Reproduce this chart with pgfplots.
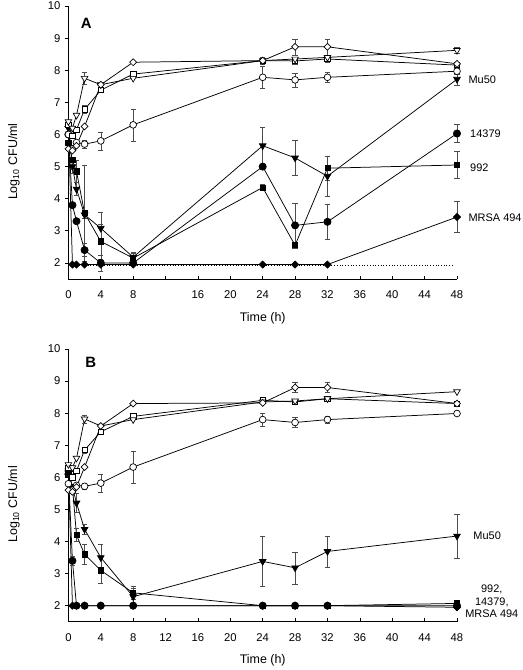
\documentclass[border=0pt]{standalone}
\usepackage{fontspec}
\setmainfont{Liberation Sans}
\usepackage{pgfplots}
\pgfplotsset{compat=1.18}

\tikzset{lab/.style={font=\fontsize{11}{12.5}\selectfont}}
\pgfplotsset{
  base/.style={
    scale only axis, width=388.6bp,
    xmin=0, xmax=48, ymin=1.5, ymax=10,
    axis lines=left, axis line style={-, line width=0.7pt},
    tick align=inside, major tick length=3.5bp,
    major y tick style={xshift=-3.5bp},
    tick style={line width=0.7pt, black},
    xtick={0,4,...,48}, ytick={2,...,10},
    /pgf/number format/assume math mode=true,
    tick label style={font=\fontsize{11.3}{13}\selectfont},
    xticklabel style={yshift=-8.5bp},
    yticklabel style={xshift=-4.5bp},
    clip=false,
    xlabel={Time (h)},
    xlabel style={at={(axis description cs:0.5,-0.143)}, anchor=center, font=\fontsize{12.5}{14}\selectfont},
    ylabel={Log\textsubscript{10} CFU/ml},
    ylabel style={at={(axis description cs:-0.14,0.43)}, anchor=center, rotate=0, font=\fontsize{12.5}{14}\selectfont},
    every axis plot/.append style={line width=0.75pt, black},
  },
  eb/.style={error bars/y dir=both, error bars/y explicit,
    error bars/error bar style={line width=0.5pt, black!70, solid},
    error bars/error mark options={rotate=90, mark size=2.6pt, line width=0.5pt, black!70}},
  od/.style={mark=square*, mark size=2.45pt, mark options={rotate=45, fill=white, solid, line width=0.7pt}},
  ot/.style={mark=triangle*, mark size=3.8pt, mark options={rotate=180, fill=white, solid, line width=0.7pt}},
  os/.style={mark=square*, mark size=2.7pt, mark options={fill=white, solid, line width=0.7pt}},
  oc/.style={mark=*, mark size=3.4pt, mark options={fill=white, solid, line width=0.7pt}},
  fd/.style={mark=square*, mark size=2.5pt, mark options={rotate=45, fill=black, solid}},
  ft/.style={mark=triangle*, mark size=3.8pt, mark options={rotate=180, fill=black, solid}},
  fs/.style={mark=square*, mark size=2.6pt, mark options={fill=black, solid}},
  fc/.style={mark=*, mark size=3.6pt, mark options={fill=black, solid}},
}

\begin{document}
\begin{tikzpicture}
\useasboundingbox (0,0) rectangle (523bp,-670bp);

% ---------------- Panel A ----------------
\begin{axis}[base, at={(68.4bp,-279bp)}, anchor=south west, height=273bp,
  xticklabels={0,4,8,{},16,20,24,28,32,36,40,44,48}]

\addplot[dotted, line width=0.5pt] coordinates {(0,1.93) (47.5,1.93)};

% filled series
\addplot[fd, eb] coordinates {(0,6.25) (0.5,1.95) (1,1.95) (2,1.95) (4,1.95) (8,1.95) (24,1.95) (28,1.95) (32,1.95) (48,3.43) +- (0,0.48)};
\addplot[fc, eb] coordinates {(0,6.0) (0.5,3.8) (1,3.3) (2,2.4) +- (0,0.2) (4,2.0) +- (0,0.25) (8,2.0) (24,5.0) (28,3.17) +- (0,0.7) (32,3.28) +- (0,0.55) (48,6.03) +- (0,0.28)};
\addplot[fs, eb] coordinates {(0,5.75) (0.5,5.2) (1,4.85) +- (0,0.35) (2,3.55) +- (0,1.5) (4,2.67) +- (0,0.55) (8,2.15) +- (0,0.15) (24,4.35) +- (0,0.1) (28,2.55) +- (0,0.1) (32,4.95) +- (0,0.38) (48,5.05) +- (0,0.42)};
\addplot[ft, eb] coordinates {(0,6.2) (0.5,5.0) +- (0,0.2) (1,4.3) +- (0,0.2) (2,3.5) +- (0,0.1) (4,3.08) +- (0,0.5) (8,2.18) +- (0,0.15) (24,5.65) +- (0,0.58) (28,5.27) +- (0,0.55) (32,4.7) +- (0,0.63) (48,7.72) +- (0,0.2)};

% open series
\addplot[oc, eb] coordinates {(0,6.0) (0.5,5.55) (1,5.75) (2,5.7) +- (0,0.12) (4,5.8) +- (0,0.28) (8,6.3) +- (0,0.5) (24,7.78) +- (0,0.35) (28,7.7) +- (0,0.22) (32,7.78) +- (0,0.15) (48,7.97) +- (0,0.1)};
\addplot[os, eb] coordinates {(0,6.3) (0.5,5.95) (1,6.15) (2,6.78) +- (0,0.12) (4,7.38) (8,7.88) (24,8.3) +- (0,0.12) (28,8.29) +- (0,0.1) (32,8.35) +- (0,0.1) (48,8.16)};
\addplot[ot, eb] coordinates {(0,6.4) (0.5,6.2) (1,6.6) (2,7.75) +- (0,0.2) (4,7.55) (8,7.75) (24,8.3) +- (0,0.1) (28,8.35) (32,8.4) (48,8.62) +- (0,0.1)};
\addplot[od, eb] coordinates {(0,5.55) (0.5,5.5) (1,5.65) (2,6.25) (4,7.55) (8,8.25) (24,8.3) (28,8.73) +- (0,0.25) (32,8.73) +- (0,0.25) (48,8.2)};

\node[font=\bfseries\fontsize{15}{16}\selectfont] at (axis cs:2.2,9.47) {A};
\node[lab, anchor=west] at (axis cs:49.0,7.69) {Mu50};
\node[lab, anchor=west] at (axis cs:49.2,6.01) {14379};
\node[lab, anchor=west] at (axis cs:49.2,4.98) {992};
\node[lab, anchor=west] at (axis cs:49.0,3.42) {MRSA 494};
\end{axis}

% ---------------- Panel B ----------------
\begin{axis}[base, at={(68.4bp,-621.7bp)}, anchor=south west, height=272.7bp,
  xticklabels={0,4,8,12,16,20,24,28,32,36,40,44,48}]

% filled series
\addplot[fd, eb] coordinates {(0,6.2) (0.5,2.0) (1,2.0) (2,2.0) (4,2.0) (8,2.0) (24,2.0) (28,2.0) (32,2.0) (48,1.95)};
\addplot[fc, eb] coordinates {(0,6.1) (0.5,3.4) +- (0,0.15) (1,2.0) (2,2.0) (4,2.0) (8,2.0) (24,2.0) (28,2.0) (32,2.0) (48,2.0)};
\addplot[fs, eb] coordinates {(0,6.1) (0.5,5.7) (1,4.2) +- (0,0.2) (2,3.6) +- (0,0.3) (4,3.1) +- (0,0.4) (8,2.4) +- (0,0.2) (24,2.0) (28,2.0) (32,2.0) (48,2.07) +- (0,0.1)};
\addplot[ft, eb] coordinates {(0,6.2) (0.5,5.7) (1,5.2) +- (0,0.3) (2,4.38) +- (0,0.15) (4,3.5) +- (0,0.42) (8,2.28) +- (0,0.25) (24,3.38) +- (0,0.77) (28,3.18) +- (0,0.5) (32,3.69) +- (0,0.48) (48,4.17) +- (0,0.69)};

% open series
\addplot[oc, eb] coordinates {(0,5.8) (0.5,5.6) (1,5.75) (2,5.72) +- (0,0.1) (4,5.82) +- (0,0.28) (8,6.32) +- (0,0.5) (24,7.8) +- (0,0.2) (28,7.71) +- (0,0.15) (32,7.8) +- (0,0.1) (48,7.99)};
\addplot[os, eb] coordinates {(0,6.3) (0.5,6.0) (1,6.2) (2,6.85) +- (0,0.1) (4,7.42) (8,7.9) (24,8.4) +- (0,0.1) (28,8.35) (32,8.45) +- (0,0.08) (48,8.3)};
\addplot[ot, eb] coordinates {(0,6.4) (0.5,6.3) (1,6.6) (2,7.82) +- (0,0.12) (4,7.6) (8,7.8) (24,8.35) (28,8.38) (32,8.45) (48,8.67)};
\addplot[od, eb] coordinates {(0,5.6) (0.5,5.55) (1,5.7) (2,6.32) (4,7.6) (8,8.3) (24,8.32) (28,8.8) +- (0,0.15) (32,8.8) +- (0,0.15) (48,8.3)};

\node[font=\bfseries\fontsize{15}{16}\selectfont] at (axis cs:2.75,9.58) {B};
\node[lab, anchor=west] at (axis cs:49.6,4.19) {Mu50};
\node[lab, align=center] at (axis cs:52.3,2.125) {992,\\14379,\\MRSA 494};
\end{axis}
\end{tikzpicture}
\end{document}
